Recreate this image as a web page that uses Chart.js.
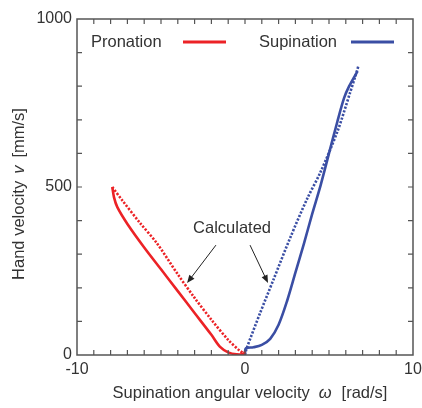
<!DOCTYPE html>
<html>
<head>
<meta charset="utf-8">
<script src="https://cdn.jsdelivr.net/npm/chart.js@4.4.1/dist/chart.umd.min.js"></script>
<style>
    body { margin: 0; background: #fff; }
</style>
</head>
<body>
<canvas id="miGrafico" width="422" height="408"></canvas>
<script>
// pronation, measured (solid) and calculated (dotted)
const pronX = [-7.9, -7.8, -7.6, -7.0, -6.0, -5.0, -4.0, -3.0, -2.0, -1.5, -1.0, -0.5, -0.1, 0.0];
const pronY = [500, 470, 440, 390, 320, 255, 190, 125, 60, 25, 8, 2, 3, 10];
const pronCalcX = [-7.9, -7.3, -6.25, -5.25, -4.0, -3.0, -2.0, -1.0, -0.3, 0.0];
const pronCalcY = [500, 460, 393, 333, 240, 170, 105, 45, 12, 3];

// supination, measured (solid) and calculated (dotted)
const supX = [0.0, 0.05, 0.5, 1.0, 1.5, 2.0, 2.5, 3.0, 3.5, 4.0, 4.5, 5.0, 5.5, 5.9, 6.2, 6.7];
const supY = [5, 20, 23, 30, 48, 90, 160, 245, 330, 420, 505, 600, 695, 765, 800, 845];
const supCalcX = [0.0, 0.1, 0.9, 1.7, 2.7, 3.7, 4.5, 5.5, 6.25, 6.55, 6.75];
const supCalcY = [0, 20, 125, 225, 350, 465, 545, 665, 780, 827, 860];

const xTickLabels = [-10, 0, 10];
const yTickLabels = [0, 500, 1000];

// arrows "Calculated" -> dotted lines (data coords)
const arrowFrom = [[-1.73, 327], [0.30, 327]];
const arrowTo = [[-3.45, 214], [1.37, 214]];
const labelCalc = { text: 'Calculated', x: -0.77, y: 378 };

const rojo = 'rgb(236,34,38)';
const azul = 'rgb(58,78,164)';
const gris = '#333';
const fuente = '"Liberation Sans", Arial, sans-serif';

function puntos(xs, ys) {
    return xs.map((x, i) => ({ x: x, y: ys[i] }));
}

function drawArrow(ctx, x1, y1, x2, y2) {
    const ang = Math.atan2(y2 - y1, x2 - x1);
    const len = 8, w = 3.2;
    ctx.beginPath();
    ctx.moveTo(x1, y1);
    ctx.lineTo(x2 - Math.cos(ang) * len * 0.8, y2 - Math.sin(ang) * len * 0.8);
    ctx.stroke();
    ctx.beginPath();
    ctx.moveTo(x2, y2);
    ctx.lineTo(x2 - Math.cos(ang) * len - Math.sin(ang) * w, y2 - Math.sin(ang) * len + Math.cos(ang) * w);
    ctx.lineTo(x2 - Math.cos(ang) * len + Math.sin(ang) * w, y2 - Math.sin(ang) * len - Math.cos(ang) * w);
    ctx.closePath();
    ctx.fill();
}

// draw text pieces one after another, some italic, centred on cx
function drawParts(ctx, parts, cx, cy) {
    let total = 0;
    for (let p of parts) {
        ctx.font = (p.italic ? 'italic ' : '') + '16.5px ' + fuente;
        p.w = ctx.measureText(p.t).width;
        total += p.w + (p.gap || 0);
    }
    let x = cx - total / 2;
    for (let p of parts) {
        ctx.font = (p.italic ? 'italic ' : '') + '16.5px ' + fuente;
        ctx.fillText(p.t, x, cy);
        x += p.w + (p.gap || 0);
    }
}

const extras = {
    id: 'extras',
    afterDraw(chart) {
        const ctx = chart.ctx;
        const a = chart.chartArea;
        const sx = chart.scales.x, sy = chart.scales.y;
        ctx.save();

        // frame
        ctx.strokeStyle = '#555';
        ctx.lineWidth = 1.5;
        ctx.strokeRect(a.left, a.top, a.right - a.left, a.bottom - a.top);

        // inward ticks on all four sides
        ctx.lineWidth = 1.2;
        ctx.beginPath();
        for (let v = -9; v <= 9; v++) {
            const px = sx.getPixelForValue(v);
            ctx.moveTo(px, a.bottom); ctx.lineTo(px, a.bottom - 5);
            ctx.moveTo(px, a.top); ctx.lineTo(px, a.top + 5);
        }
        for (let v = 100; v <= 900; v += 100) {
            const py = sy.getPixelForValue(v);
            ctx.moveTo(a.left, py); ctx.lineTo(a.left + 5, py);
            ctx.moveTo(a.right, py); ctx.lineTo(a.right - 5, py);
        }
        ctx.stroke();

        // legend
        ctx.fillStyle = gris;
        ctx.textBaseline = 'middle';
        ctx.textAlign = 'left';
        ctx.font = '16.5px ' + fuente;
        const ly = a.top + 23;
        ctx.fillText('Pronation', a.left + 14, ly);
        ctx.fillText('Supination', a.left + 182, ly);
        ctx.lineWidth = 2.8;
        ctx.strokeStyle = rojo;
        ctx.beginPath(); ctx.moveTo(a.left + 106, ly); ctx.lineTo(a.left + 149, ly); ctx.stroke();
        ctx.strokeStyle = azul;
        ctx.beginPath(); ctx.moveTo(a.left + 274, ly); ctx.lineTo(a.left + 317, ly); ctx.stroke();

        // "Calculated" label and arrows
        ctx.textAlign = 'center';
        ctx.fillText(labelCalc.text, sx.getPixelForValue(labelCalc.x), sy.getPixelForValue(labelCalc.y));
        ctx.strokeStyle = '#222';
        ctx.fillStyle = '#222';
        ctx.lineWidth = 1;
        for (let i = 0; i < arrowFrom.length; i++) {
            drawArrow(ctx,
                sx.getPixelForValue(arrowFrom[i][0]), sy.getPixelForValue(arrowFrom[i][1]),
                sx.getPixelForValue(arrowTo[i][0]), sy.getPixelForValue(arrowTo[i][1]));
        }

        // axis titles
        ctx.fillStyle = gris;
        ctx.textAlign = 'left';
        ctx.textBaseline = 'alphabetic';
        drawParts(ctx, [
            { t: 'Supination angular velocity', gap: 9 },
            { t: 'ω', italic: true, gap: 10 },
            { t: '[rad/s]' }
        ], 250, 398);

        ctx.translate(24, 194);
        ctx.rotate(-Math.PI / 2);
        drawParts(ctx, [
            { t: 'Hand velocity', gap: 7 },
            { t: 'v', italic: true, gap: 8 },
            { t: '[mm/s]' }
        ], 0, 0);

        ctx.restore();
    }
};

const config = {
    type: 'scatter',
    data: {
        datasets: [
            { data: puntos(pronX, pronY), borderColor: rojo, borderWidth: 2.6 },
            { data: puntos(supX, supY), borderColor: azul, borderWidth: 2.6 },
            { data: puntos(pronCalcX, pronCalcY), borderColor: rojo, borderWidth: 2.6, borderDash: [2.2, 1.6] },
            { data: puntos(supCalcX, supCalcY), borderColor: azul, borderWidth: 2.6, borderDash: [2.2, 1.6] }
        ]
    },
    options: {
        responsive: false,
        animation: false,
        showLine: true,
        layout: { padding: { top: 19, right: 9, left: 0, bottom: 0 } },
        elements: {
            point: { radius: 0, hoverRadius: 0 },
            line: { tension: 0.3, fill: false }
        },
        plugins: { legend: { display: false }, tooltip: { enabled: false } },
        scales: {
            x: {
                type: 'linear', min: -10, max: 10,
                grid: { display: false, drawTicks: false }, border: { display: false },
                ticks: {
                    stepSize: 10, padding: 5, maxRotation: 0, color: gris,
                    font: { family: fuente, size: 16 },
                    callback: (v) => xTickLabels.includes(v) ? String(v) : ''
                },
                afterFit: (s) => { s.height = 53; s.paddingLeft = 0; s.paddingRight = 0; }
            },
            y: {
                type: 'linear', min: 0, max: 1000,
                grid: { display: false, drawTicks: false }, border: { display: false },
                ticks: {
                    stepSize: 500, padding: 5, color: gris,
                    font: { family: fuente, size: 16 },
                    callback: (v) => yTickLabels.includes(v) ? String(v) : ''
                },
                afterFit: (s) => { s.width = 77; s.paddingTop = 0; s.paddingBottom = 0; }
            }
        }
    },
    plugins: [extras]
};

const grafico = new Chart(document.getElementById('miGrafico'), config);
</script>
</body>
</html>
